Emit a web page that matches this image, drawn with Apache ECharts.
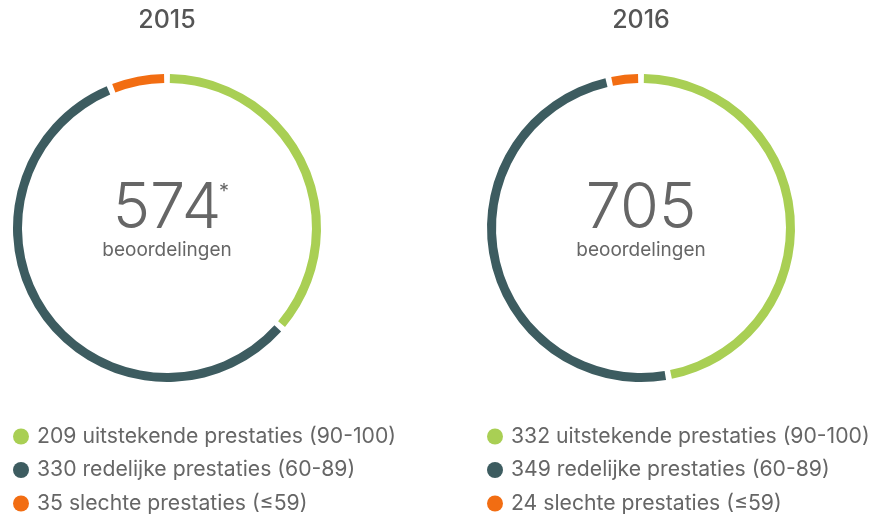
<!DOCTYPE html>
<html lang="nl">
<head>
    <meta charset="UTF-8">
    <title>Beoordelingen</title>
    <script src="https://cdn.jsdelivr.net/npm/echarts@6/dist/echarts.min.js"></script>
    <style>
        html, body { margin: 0; padding: 0; background: #fff; }
    </style>
</head>
<body>
    <div id="main" style="width: 879px;height: 519px;"></div>
    <script>
        let chart = echarts.init(document.getElementById('main'));

        var years = ['2015', '2016'];
        var categories = ['uitstekende prestaties (90-100)', 'redelijke prestaties (60-89)', 'slechte prestaties (≤59)'];
        var values2015 = [209, 330, 35];
        var values2016 = [332, 349, 24];
        var colors = ['#a9cf54', '#3d5c60', '#f26d12'];

        var font = 'Inter, "Helvetica Neue", Roboto, sans-serif';
        var centers = [167, 641];
        var allValues = [values2015, values2016];

        var series = [];
        var legends = [];
        var graphics = [];

        for (var i = 0; i < years.length; i++) {
            var vals = allValues[i];
            var total = 0;
            var data = [];
            for (var j = 0; j < vals.length; j++) {
                total += vals[j];
                data.push({
                    name: vals[j] + ' ' + categories[j],
                    value: vals[j],
                    itemStyle: { color: colors[j] }
                });
            }

            series.push({
                type: 'pie',
                center: [centers[i], 228],
                radius: [145, 154],
                startAngle: 90,
                clockwise: true,
                padAngle: 2.2,
                silent: true,
                animation: false,
                label: { show: false },
                labelLine: { show: false },
                data: data
            });

            legends.push({
                orient: 'vertical',
                left: i === 0 ? 13 : 487,
                top: 426,
                height: 93,
                padding: 0,
                icon: 'circle',
                itemWidth: 16,
                itemHeight: 16,
                itemGap: 12.5,
                selectedMode: false,
                textStyle: { fontFamily: font, fontSize: 21.2, color: '#666', padding: [0, 0, 0, 3] },
                data: data.map(function (d) { return d.name; })
            });

            graphics.push({
                type: 'text',
                x: centers[i],
                y: 20,
                style: {
                    text: years[i],
                    fontFamily: font,
                    fontSize: 25,
                    fontWeight: 500,
                    fill: '#555',
                    align: 'center',
                    verticalAlign: 'middle'
                }
            });
            graphics.push({
                type: 'text',
                x: centers[i],
                y: 209,
                style: {
                    text: String(total),
                    fontFamily: font,
                    fontSize: 63,
                    fontWeight: 300,
                    fill: '#666',
                    align: 'center',
                    verticalAlign: 'middle'
                }
            });
            if (i === 0) {
                graphics.push({
                    type: 'text',
                    x: centers[i] + 52,
                    y: 192,
                    style: {
                        text: '*',
                        fontFamily: font,
                        fontSize: 20,
                        fill: '#666',
                        align: 'left',
                        verticalAlign: 'middle'
                    }
                });
            }
            graphics.push({
                type: 'text',
                x: centers[i],
                y: 250,
                style: {
                    text: 'beoordelingen',
                    fontFamily: font,
                    fontSize: 19,
                    fill: '#666',
                    align: 'center',
                    verticalAlign: 'middle'
                }
            });
        }

        chart.setOption({
            legend: legends,
            graphic: graphics,
            series: series
        });
    </script>
</body>
</html>
